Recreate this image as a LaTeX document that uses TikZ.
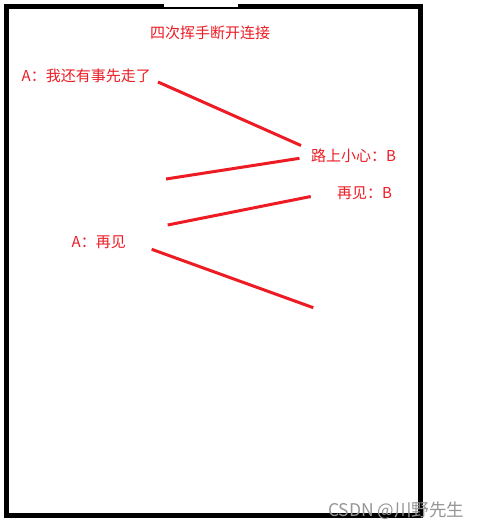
\documentclass[tikz,border=0pt]{standalone}
\usepackage{fontspec}
\setmainfont{Noto Sans CJK SC}
\definecolor{paintred}{RGB}{237,28,36}
\definecolor{wmgray}{RGB}{150,150,150}
\tikzset{
  lbl/.style={text=paintred, inner sep=0pt, anchor=west, font=\fontsize{15}{15}\selectfont},
  redline/.style={draw=paintred, line width=3pt},
}
\begin{document}
\begin{tikzpicture}[x=1pt,y=-1pt]
\useasboundingbox (0,0) rectangle (480,531);
\fill[white] (0,0) rectangle (480,531);
% frame
\draw[line width=5pt] (6.5,6.5) rectangle (420,515);
\fill[white] (164,3) rectangle (238,7.3);
% texts
\node[lbl, anchor=center] (title) at (210,32.5) {四次挥手断开连接};
\node[lbl] (a1) at (21.5,76) {A：我还有事先走了};
\node[lbl] (b1) at (311,156) {路上小心：B};
\node[lbl] (b2) at (337,193) {再见：B};
\node[lbl] (a2) at (71.5,242) {A：再见};
% line end points
\coordinate (l1s) at (158,82);
\coordinate (l1e) at (301,145.5);
\coordinate (l2s) at (299.5,158.3);
\coordinate (l2e) at (166,179);
\coordinate (l3s) at (310.7,196.5);
\coordinate (l3e) at (167.7,225);
\coordinate (l4s) at (151.7,249.3);
\coordinate (l4e) at (313.3,307.7);
\draw[redline] (l1s) -- (l1e);
\draw[redline] (l2s) -- (l2e);
\draw[redline] (l3s) -- (l3e);
\draw[redline] (l4s) -- (l4e);
% watermark
\node[text=wmgray, inner sep=0pt, anchor=west, font=\fontsize{17.5}{17.5}\selectfont] (wm) at (328,511) {CSDN @川野先生};
\end{tikzpicture}
\end{document}
